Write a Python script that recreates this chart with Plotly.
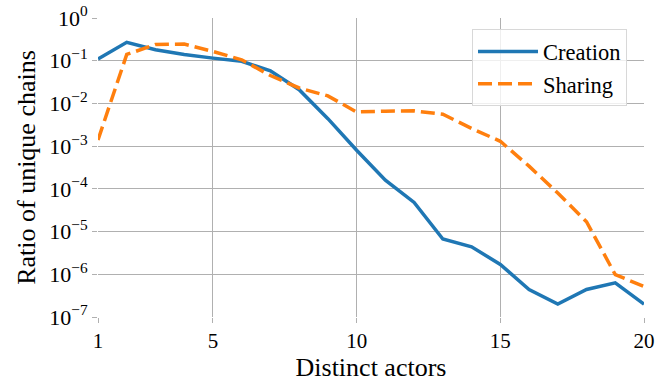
import plotly.graph_objects as go

actors = list(range(1, 21))
creation = [0.11, 0.27, 0.18, 0.14, 0.115, 0.097, 0.058, 0.021, 0.0044, 8.0e-4,
            1.6e-4, 4.8e-5, 6.7e-6, 4.4e-6, 1.7e-6, 4.4e-7, 2.0e-7, 4.4e-7, 6.3e-7, 2.0e-7]
sharing = [1.4e-3, 0.14, 0.24, 0.245, 0.165, 0.105, 0.045, 0.023, 0.015, 0.0063,
           0.0066, 0.0067, 0.0056, 0.0026, 0.0013, 3.4e-4, 8.0e-5, 1.7e-5, 9.8e-7, 5.2e-7]
y_tickvals = [1e-7, 1e-6, 1e-5, 1e-4, 1e-3, 1e-2, 1e-1, 1e0]
y_ticktext = ["10<sup>−7</sup>", "10<sup>−6</sup>", "10<sup>−5</sup>", "10<sup>−4</sup>",
              "10<sup>−3</sup>", "10<sup>−2</sup>", "10<sup>−1</sup>", "10<sup>0</sup>"]
x_tickvals = [1, 5, 10, 15, 20]

font = "Liberation Serif"

fig = go.Figure()
fig.add_trace(go.Scatter(x=actors, y=creation, mode="lines", name="Creation",
                         line=dict(color="#1f77b4", width=3.5)))
fig.add_trace(go.Scatter(x=actors, y=sharing, mode="lines", name="Sharing",
                         line=dict(color="#ff7f0e", width=3.5, dash="14px,6px")))

fig.update_layout(
    width=657, height=383,
    margin=dict(l=98, r=13, t=18, b=66),
    paper_bgcolor="white", plot_bgcolor="white",
    font=dict(family=font, size=21, color="black"),
    legend=dict(x=0.685, y=0.962, xanchor="left", yanchor="top",
                bgcolor="rgba(255,255,255,0.8)", bordercolor="#d8d8d8", borderwidth=1,
                itemwidth=60,
                font=dict(size=22.5, family=font)),
    xaxis=dict(range=[1, 20], tickvals=x_tickvals, showgrid=True, gridcolor="#b0b0b0",
               gridwidth=1, zeroline=False, showline=False, ticks="outside", ticklen=5,
               tickcolor="#b0b0b0", automargin=False, tickfont=dict(size=21),
               title=dict(text="Distinct actors", font=dict(size=26), standoff=4)),
    yaxis=dict(type="log", range=[-7, 0], tickvals=y_tickvals, ticktext=y_ticktext,
               showgrid=True, gridcolor="#b0b0b0", gridwidth=1, zeroline=False,
               showline=False, ticks="outside", ticklen=5, tickcolor="#b0b0b0",
               automargin=False, tickfont=dict(size=22),
               title=dict(text="Ratio of unique chains", font=dict(size=26), standoff=6)),
)

fig.write_html("out.html", config={"displayModeBar": False},
               post_script="document.body.style.margin='0';document.body.style.overflow='hidden';")
